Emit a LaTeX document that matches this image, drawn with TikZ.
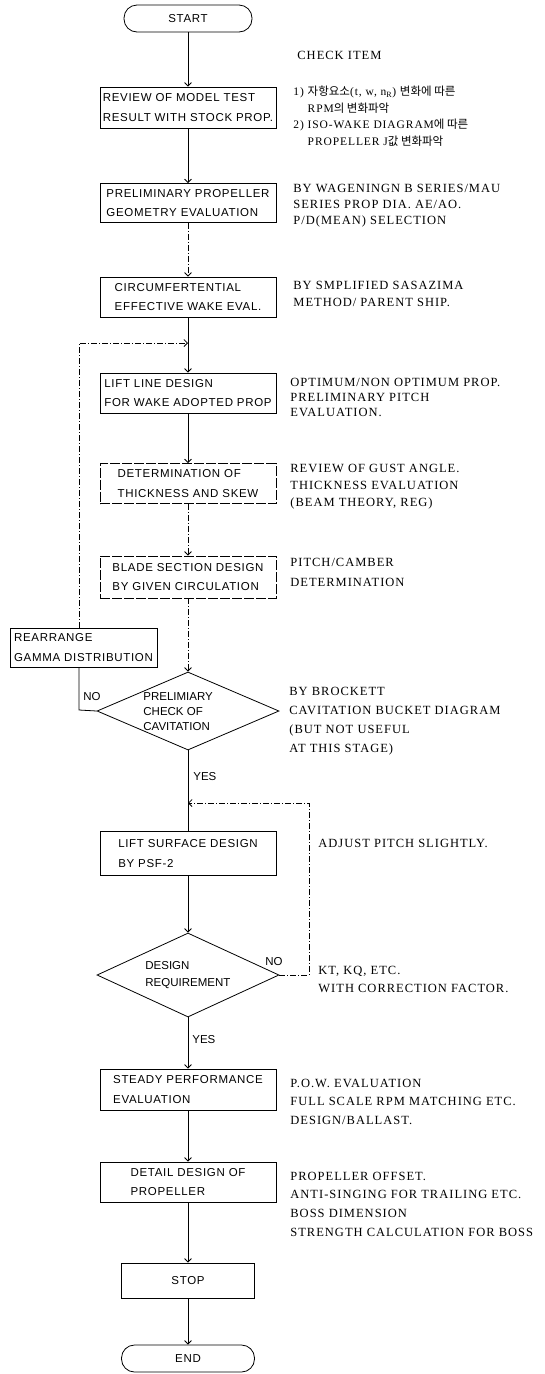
\documentclass[tikz,border=0pt]{standalone}
\usepackage{fontspec}
\setmainfont{Liberation Serif}
\newfontfamily\bxf[LetterSpace=6]{Liberation Sans}
\newfontfamily\dxf{Liberation Sans}
\newfontfamily\rtf[LetterSpace=8]{Liberation Serif}
\newfontfamily\krf{Noto Sans CJK KR}
\usetikzlibrary{arrows.meta,shapes.geometric}
\begin{document}
\begin{tikzpicture}[x=1pt,y=-1pt,line width=0.8pt,
  >={Straight Barb[length=3.5pt,width=7pt]},
  box/.style={draw, rectangle, minimum width=176pt, inner sep=0pt, align=left, font=\bxf\fontsize{11.5}{19.5}\selectfont},
  dbox/.style={box, dash pattern=on 10pt off 2pt},
  term/.style={draw, rounded corners=13pt, minimum width=128pt, minimum height=27pt, inner sep=0pt, font=\bxf\fontsize{11.5}{14}\selectfont},
  dia/.style={draw, diamond, minimum width=182pt, inner sep=0pt},
  note/.style={anchor=west, align=left, inner sep=0pt, font=\rtf\fontsize{12.5}{17}\selectfont},
  dtext/.style={anchor=west, align=left, inner sep=0pt, font=\dxf\fontsize{11.5}{15}\selectfont},
  lbl/.style={anchor=west, inner sep=0pt, font=\dxf\fontsize{11.5}{14}\selectfont},
  faint/.style={dash pattern=on 6pt off 2pt on 1pt off 2pt},
]
\fill[white] (0,0) rectangle (544,1374);
\useasboundingbox (0,0) rectangle (544,1374);

% main column
\node[term] (start) at (188,18.5) {START};
\node[box, minimum height=41pt] (rev) at (188,107.5) {REVIEW OF MODEL TEST\\RESULT WITH STOCK PROP.};
\node[box, minimum height=39pt] (pre) at (188,203) {PRELIMINARY PROPELLER\\GEOMETRY EVALUATION};
\node[box, minimum height=40pt] (circ) at (188,297) {CIRCUMFERTENTIAL\\EFFECTIVE WAKE EVAL.};
\node[box, minimum height=40pt] (lift) at (188,393) {LIFT LINE DESIGN\\FOR WAKE ADOPTED PROP};
\node[dbox, minimum height=40pt] (det) at (188,483.5) {DETERMINATION OF\\THICKNESS AND SKEW};
\node[dbox, minimum height=42pt] (blade) at (188,577) {BLADE SECTION DESIGN\\BY GIVEN CIRCULATION};
\node[box, minimum width=147pt, minimum height=39pt] (rear) at (83.5,647.5) {REARRANGE\\GAMMA DISTRIBUTION};
\node[dia, minimum height=78pt] (d1) at (188,711) {};
\node[dtext] (d1t) at (143,712) {PRELIMIARY\\CHECK OF\\CAVITATION};
\node[box, minimum height=44pt] (surf) at (188,853.5) {LIFT SURFACE DESIGN\\BY PSF-2};
\node[dia, minimum height=84pt] (d2) at (188,975) {};
\node[dtext, font=\dxf\fontsize{11.5}{17}\selectfont] (d2t) at (145,975) {DESIGN\\REQUIREMENT};
\node[box, minimum height=41pt] (steady) at (188,1089.5) {STEADY PERFORMANCE\\EVALUATION};
\node[box, minimum height=40pt] (detail) at (188,1182) {DETAIL DESIGN OF\\PROPELLER};
\node[box, minimum width=133pt, minimum height=35pt] (stop) at (188,1280.5) {STOP};
\node[term, minimum width=133pt] (end) at (188,1358.5) {END};

% junction coordinates
\coordinate (fb) at (188,343);
\coordinate (lt) at (79,343);
\coordinate (lp) at (79,710);
\coordinate (adj) at (188,803);
\coordinate (ar) at (309,803);
\coordinate (nr) at (309,975);

% connectors
\draw[->] (start) -- (rev);
\draw[->] (rev) -- (pre);
\draw[->,faint] (pre) -- (circ);
\draw[->] (circ) -- (lift);
\draw[->,faint] (lp |- rear.north) -- (lt) -- (fb);
\draw[->] (lift) -- (det);
\draw[->,faint] (det) -- (blade);
\draw[->,faint] (blade) -- (d1);
\draw (d1.west) -- (lp) -- (lp |- rear.south);
\draw (d1.south) -- (surf.north);
\draw[->,faint] (d2.east) -- (nr) -- (ar) -- (adj);
\draw[->] (surf) -- (d2);
\draw[->] (d2) -- (steady);
\draw[->] (steady) -- (detail);
\draw[->] (detail) -- (stop);
\draw[->] (stop) -- (end);

% labels
\node[lbl] (no1) at (83,697) {NO};
\node[lbl] (yes1) at (193,777) {YES};
\node[lbl] (no2) at (265,962) {NO};
\node[lbl] (yes2) at (192,1040) {YES};

% notes
\node[note] (chk) at (297,55) {CHECK ITEM};
\node[note, font=\rtf\fontsize{11.5}{16.5}\selectfont] (kor) at (293,117)
  {1) {\krf 자항요소}(t, w, n\textsubscript{R}) {\krf 변화에 따른}\\
   \phantom{1) }RPM{\krf 의 변화파악}\\
   2) ISO-WAKE DIAGRAM{\krf 에 따른}\\
   \phantom{2) }PROPELLER J{\krf 값 변화파악}};
\node[note, font=\rtf\fontsize{12.5}{16}\selectfont] (preR) at (293,206) {BY WAGENINGN B SERIES/MAU\\SERIES PROP DIA. AE/AO.\\P/D(MEAN) SELECTION};
\node[note] (circR) at (293,293.5) {BY SMPLIFIED SASAZIMA\\METHOD/ PARENT SHIP.};
\node[note, font=\rtf\fontsize{12.5}{15}\selectfont] (liftR) at (290,397) {OPTIMUM/NON OPTIMUM PROP.\\PRELIMINARY PITCH\\EVALUATION.};
\node[note] (detR) at (290,487) {REVIEW OF GUST ANGLE.\\THICKNESS EVALUATION\\(BEAM THEORY, REG)};
\node[note, font=\rtf\fontsize{12.5}{20}\selectfont] (bladeR) at (290,572) {PITCH/CAMBER\\DETERMINATION};
\node[note, font=\rtf\fontsize{12.5}{19}\selectfont] (d1R) at (289,721) {BY BROCKETT\\CAVITATION BUCKET DIAGRAM\\(BUT NOT USEFUL\\AT THIS STAGE)};
\node[note] (adjR) at (318,843) {ADJUST PITCH SLIGHTLY.};
\node[note, font=\rtf\fontsize{12.5}{18}\selectfont] (d2R) at (318,979) {KT, KQ, ETC.\\WITH CORRECTION FACTOR.};
\node[note, font=\rtf\fontsize{12.5}{18.5}\selectfont] (steadyR) at (290,1101.5) {P.O.W. EVALUATION\\FULL SCALE RPM MATCHING ETC.\\DESIGN/BALLAST.};
\node[note, font=\rtf\fontsize{12.5}{18.7}\selectfont] (detailR) at (290,1204) {PROPELLER OFFSET.\\ANTI-SINGING FOR TRAILING ETC.\\BOSS DIMENSION\\STRENGTH CALCULATION FOR BOSS};
\end{tikzpicture}
\end{document}
